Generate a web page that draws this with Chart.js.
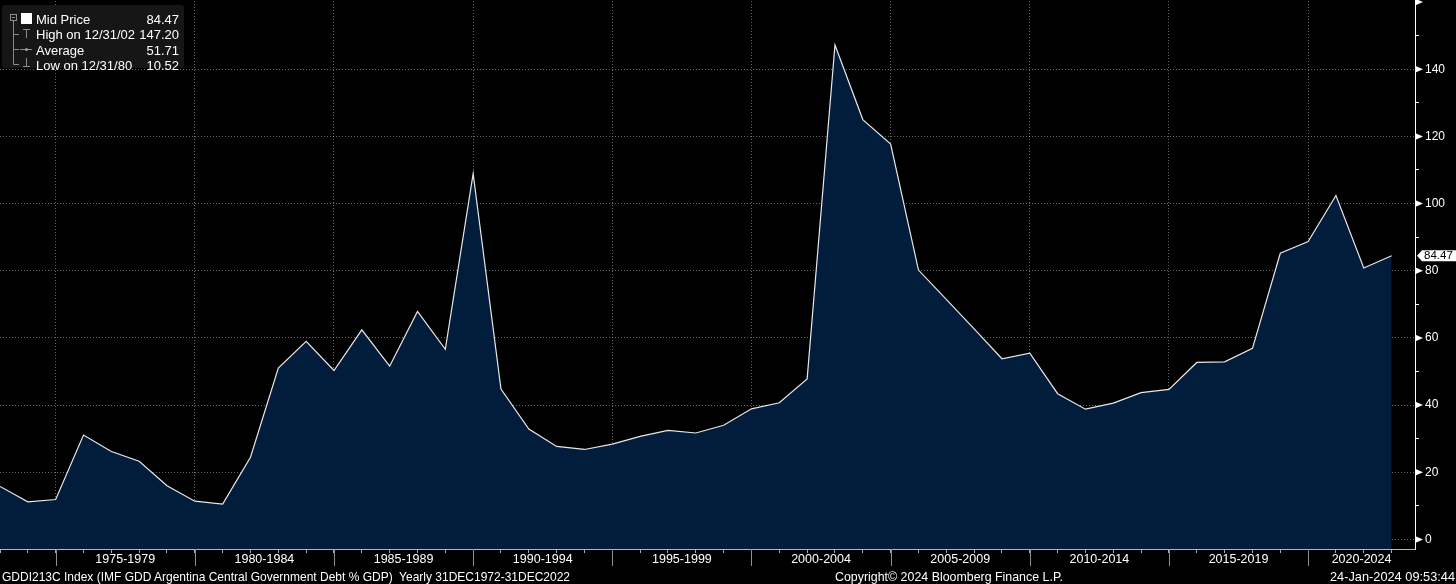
<!DOCTYPE html>
<html><head><meta charset="utf-8">
<script src="https://cdn.jsdelivr.net/npm/chart.js@4.4.1/dist/chart.umd.min.js"></script>
<style>
html,body{margin:0;padding:0;background:#000;overflow:hidden;}
#wrap{position:relative;width:1456px;height:584px;background:#000;}
canvas{position:absolute;left:0;top:0;}
.t{position:absolute;white-space:pre;font-family:'Liberation Sans',Arial,sans-serif;font-size:13px;line-height:15px;color:#fff;}
.l{transform-origin:0 0;}
.r{transform-origin:100% 0;text-align:right;}
</style></head><body>
<div id="wrap">
<canvas id="c" width="1456" height="584"></canvas>
<div class="t l" style="left:36px;top:12px">Mid Price</div>
<div class="t r" style="right:1277px;top:12px">84.47</div>
<div class="t l" style="left:36px;top:27px">High on 12/31/02</div>
<div class="t r" style="right:1277px;top:27px">147.20</div>
<div class="t l" style="left:36px;top:42.5px">Average</div>
<div class="t r" style="right:1277px;top:42.5px">51.71</div>
<div class="t l" style="left:36px;top:57.5px">Low on 12/31/80</div>
<div class="t r" style="right:1277px;top:57.5px">10.52</div>
<div class="t l fit" data-w="568" style="left:2px;top:569px">GDDI213C Index (IMF GDD Argentina Central Government Debt % GDP)  Yearly 31DEC1972-31DEC2022</div>
<div class="t l fit" data-w="228" style="left:835px;top:569px">Copyright© 2024 Bloomberg Finance L.P.</div>
<div class="t l fit" data-w="125" style="left:1330px;top:569px">24-Jan-2024 09:53:44</div>
</div>
<script>
// ---- data ----
const years = [1972,1973,1974,1975,1976,1977,1978,1979,1980,1981,1982,1983,1984,1985,1986,1987,1988,1989,1990,1991,1992,1993,1994,1995,1996,1997,1998,1999,2000,2001,2002,2003,2004,2005,2006,2007,2008,2009,2010,2011,2012,2013,2014,2015,2016,2017,2018,2019,2020,2021,2022];
const debtPctGdp = [15.8,11.2,11.9,31.1,26.2,23.3,16.0,11.4,10.52,24.5,51.0,59.0,50.3,62.4,51.6,67.9,56.6,108.9,44.8,32.9,27.7,26.8,28.4,30.7,32.5,31.7,34.0,38.9,40.7,47.8,147.20,125.0,117.7,80.2,71.5,62.7,53.8,55.5,43.4,38.8,40.6,43.7,44.7,52.7,52.9,56.9,85.2,88.7,102.4,80.8,84.47];
const xLabelText = ['1975-1979','1980-1984','1985-1989','1990-1994','1995-1999','2000-2004','2005-2009','2010-2014','2015-2019','2020-2024'];
const yTickValues = [0,20,40,60,80,100,120,140];
const lastValueLabel = '84.47';

// fit footer texts to widths
document.querySelectorAll('.fit').forEach(el=>{
  const w = el.getBoundingClientRect().width;
  el.style.transform = 'scaleX(' + (parseFloat(el.dataset.w)/w) + ')';
});

const FONT = "'Liberation Sans', Arial, sans-serif";
const GRID = 'rgba(165,172,185,0.6)';
const X_MAX = 2022.84;
const Y_MIN = -2.83, Y_MAX = 160.3;
const majorYears = years.filter(y => y % 5 === 4);
const labelPos = xLabelText.map((t,i) => i < majorYears.length-1 ? (majorYears[i]+majorYears[i+1])/2 : (majorYears[i]+X_MAX)/2);

const deco = {
  id:'deco',
  afterDraw(chart){
    const ctx = chart.ctx, xs = chart.scales.x, ys = chart.scales.y, ca = chart.chartArea;
    ctx.save();
    // long separators on x axis
    ctx.strokeStyle = '#8e8e8e'; ctx.lineWidth = 1;
    majorYears.forEach(yr=>{
      const x = Math.round(xs.getPixelForValue(yr)) + 0.5;
      ctx.beginPath(); ctx.moveTo(x, ca.bottom); ctx.lineTo(x, ca.bottom+17); ctx.stroke();
    });
    // y axis triangles
    ctx.fillStyle = '#fff';
    yTickValues.concat([160]).forEach(v=>{
      const y = ys.getPixelForValue(v);
      ctx.beginPath(); ctx.moveTo(ca.right, y-3.5); ctx.lineTo(ca.right+8, y); ctx.lineTo(ca.right, y+3.5); ctx.closePath(); ctx.fill();
    });
    // last value box
    const yl = ys.getPixelForValue(debtPctGdp[debtPctGdp.length-1]);
    const bx = ca.right + 2;
    ctx.fillStyle = '#fff';
    ctx.beginPath();
    ctx.moveTo(bx, yl); ctx.lineTo(bx+5, yl-5.5); ctx.lineTo(1456, yl-5.5); ctx.lineTo(1456, yl+5.5); ctx.lineTo(bx+5, yl+5.5); ctx.closePath(); ctx.fill();
    ctx.fillStyle = '#000'; ctx.font = '11.5px ' + FONT; ctx.textBaseline = 'middle'; ctx.textAlign = 'left';
    ctx.fillText(lastValueLabel, bx+7, yl+0.5);
    // legend box
    ctx.fillStyle = '#161616';
    ctx.beginPath(); ctx.roundRect(2, 5, 182, 63, 3); ctx.fill();
    ctx.strokeStyle = '#8a8a8a'; ctx.lineWidth = 1;
    ctx.strokeRect(10.5, 14.5, 6, 6);
    ctx.beginPath();
    ctx.moveTo(12, 17.5); ctx.lineTo(15, 17.5);
    ctx.moveTo(13.5, 20.5); ctx.lineTo(13.5, 64.5);
    [34.5, 49.5, 64.5].forEach(y=>{ ctx.moveTo(13.5, y); ctx.lineTo(19, y); });
    // High icon
    ctx.moveTo(23, 29.5); ctx.lineTo(30, 29.5); ctx.moveTo(26.5, 29.5); ctx.lineTo(26.5, 38);
    // Average icon
    ctx.moveTo(20, 49.5); ctx.lineTo(32, 49.5);
    // Low icon
    ctx.moveTo(26.5, 58); ctx.lineTo(26.5, 67); ctx.moveTo(23, 66.5); ctx.lineTo(30, 66.5);
    ctx.stroke();
    ctx.fillStyle = '#9a9a9a';
    ctx.beginPath(); ctx.arc(26.5, 49.5, 1.6, 0, Math.PI*2); ctx.fill();
    ctx.fillStyle = '#fff';
    ctx.fillRect(21, 13, 11, 11);
    ctx.restore();
  }
};

const allXTicks = years.concat(labelPos).sort((a,b)=>a-b);

new Chart(document.getElementById('c'), {
  type:'line',
  data:{ datasets:[{
    data: years.map((y,i)=>({x:y, y:debtPctGdp[i]})),
    borderColor:'#e8e8e8', borderWidth:1.2, pointRadius:0, tension:0,
    fill:'start', backgroundColor:'#021c3b'
  }]},
  options:{
    responsive:false, animation:false, devicePixelRatio:1,
    layout:{ padding:{ top:1, left:0, right:0, bottom:0 } },
    plugins:{ legend:{display:false}, tooltip:{enabled:false} },
    events:[],
    scales:{
      x:{
        type:'linear', position:'bottom', min:1972, max:X_MAX, z:1,
        afterBuildTicks: s => { s.ticks = allXTicks.map(v=>({value:v})); },
        afterFit: s => { s.height = 35; s.paddingLeft = 0; s.paddingRight = 0; },
        grid:{
          color: c => (c.tick && majorYears.includes(c.tick.value)) ? GRID : 'transparent',
          tickColor: c => (c.tick && Number.isInteger(c.tick.value)) ? '#a8a8a8' : 'transparent',
          tickLength:4, lineWidth:1, tickBorderDash:[]
        },
        border:{ color:'#b8b8b8', width:1, dash:[1,2] },
        ticks:{
          autoSkip:false, maxRotation:0, minRotation:0, padding:-1, color:'#ffffff',
          font:{ family:FONT, size:12.5 },
          callback: v => { const k = labelPos.indexOf(v); return k >= 0 ? xLabelText[k] : ''; }
        }
      },
      y:{
        type:'linear', position:'right', min:Y_MIN, max:Y_MAX, z:1,
        afterBuildTicks: s => { const t=[]; for(let v=0; v<=160; v+=10) t.push({value:v}); s.ticks = t; },
        afterFit: s => { s.width = 41; s.paddingTop = 0; s.paddingBottom = 0; },
        grid:{
          color: c => (c.tick && yTickValues.includes(c.tick.value)) ? GRID : 'transparent',
          tickColor: c => (c.tick && c.tick.value % 20 === 10) ? '#ffffff' : 'transparent',
          tickLength:4, lineWidth:1, tickBorderDash:[]
        },
        border:{ color:'#ffffff', width:1, dash:[1,2] },
        ticks:{
          padding:6, color:'#ffffff', font:{ family:FONT, size:12 },
          callback: v => yTickValues.includes(v) ? String(v) : ''
        }
      }
    }
  },
  plugins:[deco]
});
</script>
</body></html>
